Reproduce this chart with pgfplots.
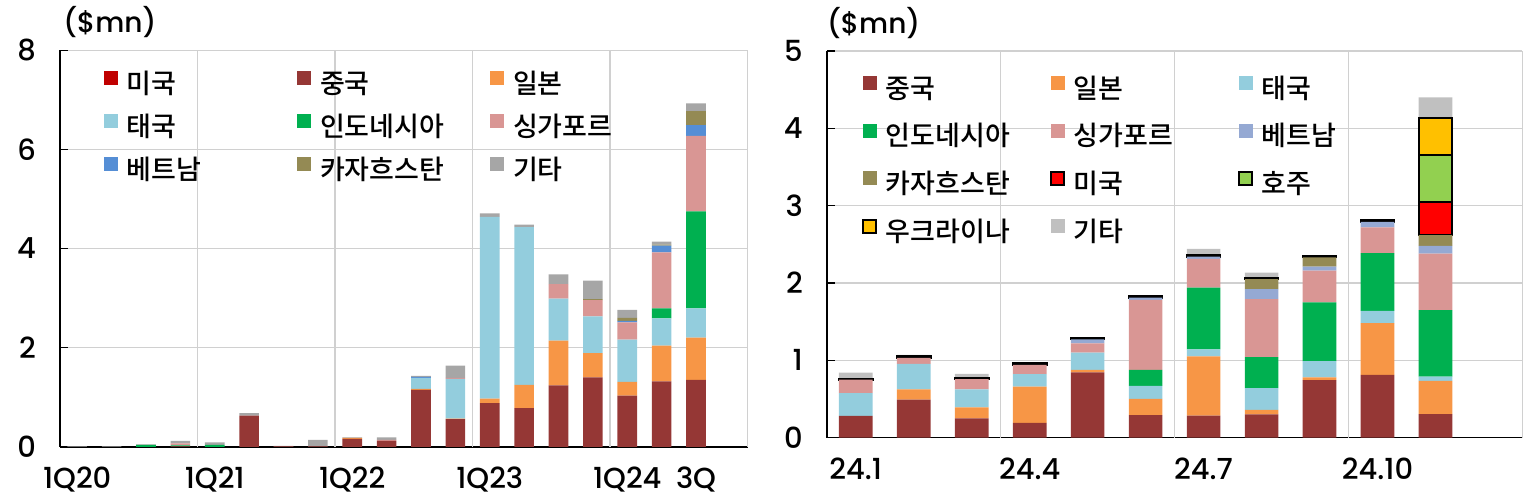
\documentclass[border=0pt]{standalone}
\usepackage{fontspec}
\setmainfont{Noto Sans CJK KR}[UprightFont={* Medium}]
\newfontfamily\pop{Poppins}[UprightFont={* Medium}]
\usepackage{pgfplots}
\usepackage{pgfplotstable}
\pgfplotsset{compat=1.18}
\definecolor{cUS}{HTML}{C00000}
\definecolor{cUSb}{HTML}{FF0000}
\definecolor{cCN}{HTML}{953735}
\definecolor{cJP}{HTML}{F79646}
\definecolor{cTH}{HTML}{93CDDD}
\definecolor{cID}{HTML}{00B050}
\definecolor{cSG}{HTML}{D99694}
\definecolor{cVN}{HTML}{558ED5}
\definecolor{cVNb}{HTML}{95A9D3}
\definecolor{cKZ}{HTML}{948A54}
\definecolor{cOT}{HTML}{A6A6A6}
\definecolor{cOTb}{HTML}{C0C0C0}
\definecolor{cAU}{HTML}{92D050}
\definecolor{cUA}{HTML}{FFC000}
\definecolor{grd}{HTML}{D0D0D0}

\pgfplotstableread{
x US CN JP TH ID SG VN KZ OT
0 0 0 0 0 0 0 0 0 0.01
1 0 0 0 0 0 0 0 0 0.01
2 0 0 0 0 0.04 0 0 0 0.01
3 0 0.01 0 0 0.02 0.04 0 0 0.05
4 0 0 0 0 0.04 0 0 0 0.05
5 0 0.63 0 0 0 0 0 0 0.05
6 0 0.01 0 0 0 0 0 0 0.01
7 0 0.01 0 0 0 0 0 0 0.13
8 0 0.16 0.02 0 0 0 0 0 0.01
9 0 0.12 0 0 0 0.02 0 0 0.05
10 0 1.15 0.02 0.22 0 0 0.02 0 0.02
11 0 0.56 0.01 0.80 0 0.02 0 0 0.25
12 0 0.88 0.09 3.67 0 0 0 0 0.07
13 0 0.78 0.47 3.18 0 0 0 0 0.05
14 0 1.24 0.90 0.85 0 0.29 0 0 0.20
15 0 1.40 0.49 0.74 0 0.33 0 0.02 0.37
16 0 1.03 0.28 0.85 0 0.35 0.03 0.06 0.16
17 0 1.32 0.72 0.55 0.20 1.13 0.14 0.02 0.06
18 0 1.35 0.85 0.59 1.96 1.52 0.22 0.28 0.16
}\lefttab

\pgfplotstableread{
x CN JP TH ID SG VN KZ US AU UA OT
0 0.28 0 0.295 0 0.175 0 0 0.01 0 0 0.08
1 0.49 0.135 0.33 0 0.075 0 0 0.02 0 0 0.02
2 0.25 0.14 0.235 0 0.13 0 0 0.01 0 0 0.06
3 0.19 0.47 0.16 0 0.12 0 0 0.02 0 0 0.01
4 0.845 0.03 0.225 0 0.12 0.05 0 0.02 0 0 0.01
5 0.29 0.21 0.17 0.205 0.905 0.03 0 0.02 0 0 0.01
6 0.285 0.765 0.09 0.80 0.37 0.03 0 0.02 0 0 0.08
7 0.30 0.06 0.28 0.40 0.75 0.13 0.13 0.015 0 0 0.07
8 0.745 0.035 0.21 0.76 0.41 0.05 0.12 0.02 0 0 0.01
9 0.81 0.67 0.16 0.745 0.335 0.07 0 0.02 0 0 0.01
10 0.305 0.43 0.055 0.86 0.73 0.10 0.14 0.425 0.605 0.48 0.27
}\righttab

\pgfplotsset{
  mybase/.style={
    scale only axis,
    ybar stacked,
    ymin=0,
    clip=false,
    axis lines=left,
    axis line style={-, black, line width=0.8pt},
    ymajorgrids,
    grid style={grd, line width=0.6pt},
    tick align=inside,
    major tick length=4pt,
    ytick style={black, line width=0.6pt},
    xtick style={draw=none},
    extra x tick style={grid=major, tick style={draw=none}},
    extra x tick labels={},
    /pgf/number format/assume math mode=true,
    tick label style={font=\pop\fontsize{14.5}{16}\selectfont},
    yticklabel style={xshift=-8.5pt},
    xticklabel style={yshift=-6.5pt},
    legend columns=3,
  },
  sq/.style={fill=#1, draw=none, legend image code/.code={\fill[#1] (0pt,1pt) rectangle (7pt,8pt);}},
  bx/.style={fill=#1, draw=black, line width=1pt, legend image code/.code={\draw[fill=#1, draw=black, line width=1pt] (0pt,1.3pt) rectangle (6.4pt,7.7pt);}},
  mylegend/.style 2 args={
    legend style={at={(axis description cs:0,1)}, anchor=north west,
      xshift=#1, yshift=#2, draw=none, fill=none, inner sep=0pt, outer sep=0pt,
      nodes={text width=70pt, align=left, inner sep=0pt, text height=9pt, text depth=3pt, font=\fontsize{13.5}{15}\selectfont},
      /tikz/every odd column/.append style={column sep=4.5pt},
    },
  },
}

\begin{document}
\begin{tikzpicture}
\path[use as bounding box] (0,0) rectangle (767pt,250pt);

\begin{axis}[mybase,
  at={(30pt,26.6pt)}, anchor=south west,
  width=343.8pt, height=198.3pt,
  xmin=-0.5, xmax=19.5, ymax=8,
  bar width=0.57,
  ytick={0,2,4,6,8},
  xtick={0,4,8,12,16,18},
  xticklabels={1Q20,1Q21,1Q22,1Q23,1Q24,3Q},
  extra x ticks={3.5,7.5,11.5,15.5,19.5},
  mylegend={22pt}{-10.5pt},
  legend style={row sep=7.5pt, /tikz/every even column/.append style={column sep=15pt}},
]
\addplot[sq=cUS] table[x=x,y=US] {\lefttab};
\addplot[sq=cCN] table[x=x,y=CN] {\lefttab};
\addplot[sq=cJP] table[x=x,y=JP] {\lefttab};
\addplot[sq=cTH] table[x=x,y=TH] {\lefttab};
\addplot[sq=cID] table[x=x,y=ID] {\lefttab};
\addplot[sq=cSG] table[x=x,y=SG] {\lefttab};
\addplot[sq=cVN] table[x=x,y=VN] {\lefttab};
\addplot[sq=cKZ] table[x=x,y=KZ] {\lefttab};
\addplot[sq=cOT] table[x=x,y=OT] {\lefttab};
\legend{미국,중국,일본,태국,인도네시아,싱가포르,베트남,카자흐스탄,기타}
\node[anchor=south west, inner sep=0pt, font=\pop\fontsize{14}{15}\selectfont] at (rel axis cs:0,1) [xshift=1.5pt, yshift=6pt] {(\$mn)};
\end{axis}

\begin{axis}[mybase,
  at={(413.4pt,31.2pt)}, anchor=south west,
  width=347.8pt, height=193.3pt,
  xmin=-0.5, xmax=11.5, ymax=5,
  bar width=0.58,
  ytick={0,1,2,3,4,5},
  xtick={0,3,6,9},
  xticklabels={24.1,24.4,24.7,24.10},
  extra x ticks={2.5,5.5,8.5,11.5},
  mylegend={17.5pt}{-12.5pt},
  legend style={row sep=9.75pt, /tikz/every even column/.append style={column sep=12pt}},
]
\addplot[sq=cCN] table[x=x,y=CN] {\righttab};
\addplot[sq=cJP] table[x=x,y=JP] {\righttab};
\addplot[sq=cTH] table[x=x,y=TH] {\righttab};
\addplot[sq=cID] table[x=x,y=ID] {\righttab};
\addplot[sq=cSG] table[x=x,y=SG] {\righttab};
\addplot[sq=cVNb] table[x=x,y=VN] {\righttab};
\addplot[sq=cKZ] table[x=x,y=KZ] {\righttab};
\addplot[bx=cUSb] table[x=x,y=US] {\righttab};
\addplot[bx=cAU] table[x=x,y=AU] {\righttab};
\addplot[bx=cUA] table[x=x,y=UA] {\righttab};
\addplot[sq=cOTb] table[x=x,y=OT] {\righttab};
\legend{중국,일본,태국,인도네시아,싱가포르,베트남,카자흐스탄,미국,호주,우크라이나,기타}
\node[anchor=south west, inner sep=0pt, font=\pop\fontsize{14}{15}\selectfont] at (rel axis cs:0,1) [xshift=0pt, yshift=6pt] {(\$mn)};
\end{axis}
\end{tikzpicture}
\end{document}
